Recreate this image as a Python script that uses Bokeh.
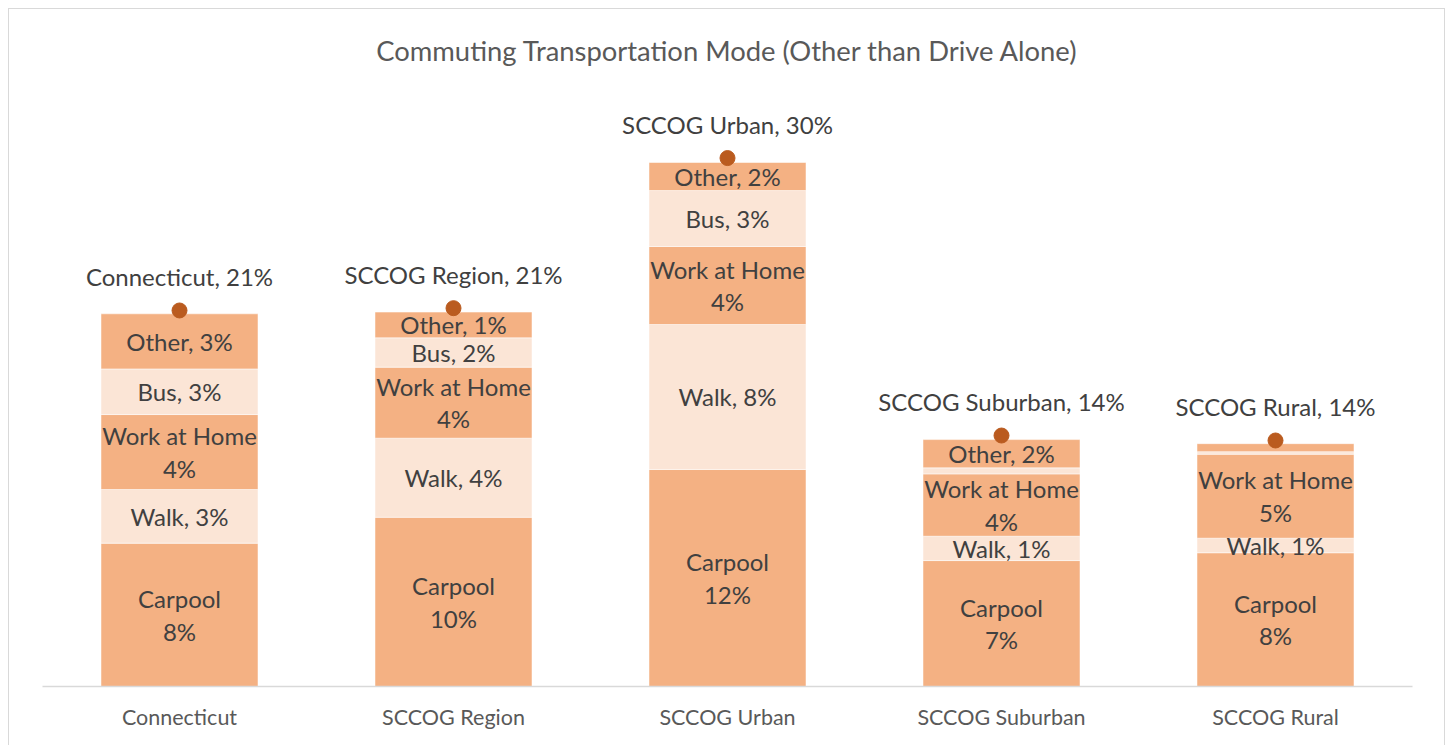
from bokeh.plotting import figure
from bokeh.models import Range1d, FactorRange, Label, ColumnDataSource
from bokeh.core.properties import value
from bokeh.embed import file_html
from bokeh.resources import INLINE

categories = ["Connecticut", "SCCOG Region", "SCCOG Urban", "SCCOG Suburban", "SCCOG Rural"]
series = ["Carpool", "Walk", "Work at Home", "Bus", "Other"]
carpool = [8.07, 9.53, 12.22, 7.09, 7.53]
walk = [3.02, 4.45, 8.16, 1.37, 0.82]
work_at_home = [4.22, 4.00, 4.39, 3.51, 4.73]
bus = [2.57, 1.65, 3.15, 0.34, 0.14]
other = [3.10, 1.45, 1.58, 1.59, 0.45]
totals = [21.17, 21.30, 29.75, 14.13, 13.85]
title_text = "Commuting Transportation Mode (Other than Drive Alone)"

DARK = "#F4B183"
LIGHT = "#FBE5D6"
colors = [DARK, LIGHT, DARK, LIGHT, DARK]
two_line = {"Carpool": True, "Walk": False, "Work at Home": True, "Bus": False, "Other": False}
FONT = "Lato"

data = {"cat": categories, "Carpool": carpool, "Walk": walk, "Work at Home": work_at_home,
        "Bus": bus, "Other": other}
src = ColumnDataSource(data)

W, H = 1437, 737
p = figure(width=W, height=H, x_range=FactorRange(*categories, range_padding=0),
           y_range=Range1d(0, 37.72), output_backend="svg", toolbar_location=None,
           y_axis_location=None, min_border_left=33, min_border_right=34,
           min_border_top=7, min_border_bottom=60)
p.styles = {"margin-left": "8px", "margin-top": "8px",
            "border-top": "1px solid #d9d9d9", "border-left": "1px solid #d9d9d9",
            "border-right": "1px solid #d9d9d9"}
p.outline_line_color = None
p.xgrid.visible = False
p.ygrid.visible = False

p.vbar_stack(series, x="cat", width=0.573, color=colors, source=src,
             line_color="white", line_width=1, line_alpha=0.5)

# segment labels
lx, ly, lt = [], [], []
for i, c in enumerate(categories):
    base = 0.0
    for s in series:
        v = data[s][i]
        if v >= 0.5:
            pct = f"{round(v)}%"
            lt.append(f"{s}\n{pct}" if two_line[s] else f"{s}, {pct}")
            lx.append(c)
            ly.append(base + v / 2)
        base += v
p.text(x=lx, y=ly, text=lt, text_align="center", text_baseline="middle",
       text_font=value(FONT), text_font_size="24px", text_color="#404040",
       text_line_height=1.12)

# totals
p.scatter(x=categories, y=totals, size=15, color="#BA5B1F")
p.text(x=categories, y=totals, text=[f"{c}, {round(t)}%" for c, t in zip(categories, totals)],
       y_offset=-34, text_align="center", text_baseline="middle",
       text_font=value(FONT), text_font_size="24px", text_color="#404040")

p.add_layout(Label(x=2.5, y=35.81, text=title_text, text_align="center",
                   text_baseline="middle", text_font=FONT, text_font_size="27.4px",
                   text_color="#595959"))

ax = p.xaxis[0]
ax.axis_line_color = "#d9d9d9"
ax.axis_line_width = 1.5
ax.major_tick_line_color = None
ax.minor_tick_line_color = None
ax.major_label_standoff = 11
ax.major_label_text_font = FONT
ax.major_label_text_font_size = "21.5px"
ax.major_label_text_color = "#595959"

open("out.html", "w").write(file_html(p, INLINE))
